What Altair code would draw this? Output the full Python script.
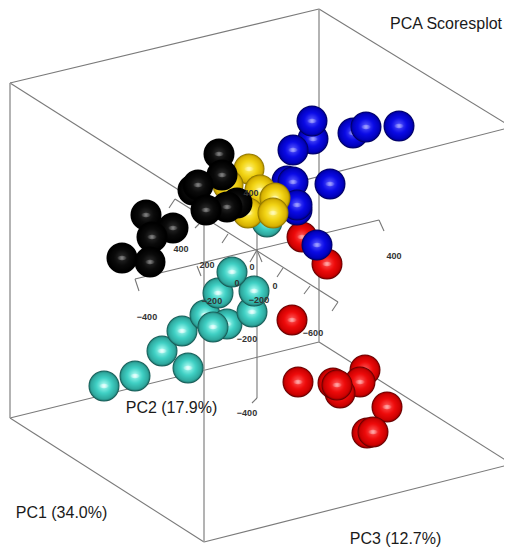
import altair as alt

# Projected positions of the scores, in the picture's plane
red_x = [365, 360, 340, 333, 337, 298, 292, 387, 367, 373, 302, 327]
red_y = [370, 382, 393, 383, 385, 382, 320, 407, 433, 432, 237, 264]
blue_x = [317, 313, 312, 293, 353, 366, 399, 330, 287, 293, 297, 297]
blue_y = [245, 139, 121, 150, 133, 127, 126, 184, 181, 182, 210, 205]
teal_x = [267, 104, 135, 188, 162, 182, 205, 227, 213, 252, 254, 218, 232]
teal_y = [222, 386, 376, 368, 351, 331, 315, 324, 327, 312, 291, 293, 272]
yellow_x = [249, 228, 260, 248, 275, 273]
yellow_y = [169, 185, 190, 213, 198, 213]
black_x = [219, 222, 193, 198, 237, 227, 206, 146, 173, 152, 122, 150]
black_y = [154, 175, 190, 185, 203, 207, 210, 215, 228, 237, 258, 262]

# order of drawing follows this list
groups = ["red", "blue", "teal", "yellow", "black"]
group_x = dict(red=red_x, blue=blue_x, teal=teal_x, yellow=yellow_x, black=black_x)
group_y = dict(red=red_y, blue=blue_y, teal=teal_y, yellow=yellow_y, black=black_y)
stops = dict(
    red=["#ff5a5a", "#ee0a0a", "#c80000", "#4a0000"],
    blue=["#5a5aff", "#0a0ae6", "#0000b8", "#00004a"],
    teal=["#b4fff6", "#3fd0c4", "#2da49a", "#0f4541"],
    yellow=["#fff27a", "#f2d414", "#d4ae00", "#7a6400"],
    black=["#2e2e2e", "#0a0a0a", "#000000", "#000000"],
)
shine = dict(red="#ffb0b0", blue="#a8a8ff", teal="#f0fffe", yellow="#fffbc0", black="#8a8a8a")

# Box edges (x, y, x2, y2)
box_edges = [
    (10, 83, 319, 9), (319, 9, 511.7, 127), (10, 83, 204, 206), (204, 206, 511.7, 127),
    (10, 418, 319, 342), (319, 342, 511.7, 464), (10, 418, 204, 542), (204, 542, 511.7, 464),
]
box_uprights = [(10, 83, 10, 418), (319, 9, 319, 342), (204, 206, 204, 542)]
# Axes through the origin, with their tick arms
axis_lines = [
    (135, 279, 379, 220), (175, 199, 338, 302), (257, 222, 257, 398),
    (379, 220, 384, 231), (135, 279, 139, 291), (197, 266, 201, 276),
    (338, 302, 332, 311), (310, 286, 304, 294), (283, 268, 277, 277),
    (228, 234, 222, 243), (199, 224, 195, 228), (175, 199, 169, 208),
    (257, 250, 250, 262), (257, 250, 262, 262), (257, 398, 252, 403),
]
tick_labels = ["400", "400", "400", "200", "0", "0", "0", "−200", "−200", "−400", "−200", "−400", "−600"]
tick_x = [394, 181, 251, 207, 252, 275, 237, 212, 259, 147, 247, 247, 313]
tick_y = [256, 249, 193, 265, 267, 286, 283, 301, 300, 317, 339, 413, 333]
titles = ["PCA Scoresplot", "PC2 (17.9%)", "PC1 (34.0%)", "PC3 (12.7%)"]
title_x = [446, 171.5, 61.5, 395.5]
title_y = [24, 408, 513, 539]

X = alt.X("x:Q", scale=alt.Scale(domain=[8, 504]), axis=None)
Y = alt.Y("y:Q", scale=alt.Scale(domain=[8, 547], reverse=True), axis=None)


def rules(rows, color, width):
    vals = [dict(x=a, y=b, x2=c, y2=d) for a, b, c, d in rows]
    return alt.Chart(alt.Data(values=vals)).mark_rule(color=color, strokeWidth=width).encode(
        x=X, y=Y, x2="x2:Q", y2="y2:Q"
    )


layers = [
    rules(box_edges, "#7a7a7a", 1.1),
    rules(box_uprights, "#9a9a9a", 1.5),
    rules(axis_lines, "#777777", 1.1),
]

ELLIPSE = "M -0.5 0 A 0.5 0.22 0 1 1 0.5 0 A 0.5 0.22 0 1 1 -0.5 0 Z"

for g in groups:
    s = stops[g]
    grad = alt.RadialGradient(
        gradient="radial", x1=0.5, y1=0.47, x2=0.5, y2=0.5, r1=0, r2=0.5,
        stops=[
            alt.GradientStop(offset=0, color=s[0]),
            alt.GradientStop(offset=0.5, color=s[1]),
            alt.GradientStop(offset=0.88, color=s[2]),
            alt.GradientStop(offset=1, color=s[3]),
        ],
    )
    glow = alt.RadialGradient(
        gradient="radial", x1=0.5, y1=0.5, x2=0.5, y2=0.5, r1=0, r2=0.5,
        stops=[
            alt.GradientStop(offset=0, color=shine[g]),
            alt.GradientStop(offset=1, color=shine[g] + "00"),
        ],
    )
    for px, py in zip(group_x[g], group_y[g]):
        row = alt.Data(values=[dict(x=px, y=py)])
        layers.append(
            alt.Chart(row).mark_point(
                shape="circle", filled=True, fill=grad, opacity=1, size=961, strokeWidth=0
            ).encode(x=X, y=Y)
        )
        layers.append(
            alt.Chart(row).mark_point(
                shape=ELLIPSE, filled=True, fill=glow, opacity=1, size=400, strokeWidth=0
            ).encode(x=X, y=Y)
        )

layers.append(
    alt.Chart(alt.Data(values=[dict(x=a, y=b, t=c) for a, b, c in zip(tick_x, tick_y, tick_labels)]))
    .mark_text(font="Liberation Sans", fontWeight="bold", fontSize=9, color="#333333")
    .encode(x=X, y=Y, text="t:N")
)
layers.append(
    alt.Chart(alt.Data(values=[dict(x=a, y=b, t=c) for a, b, c in zip(title_x, title_y, titles)]))
    .mark_text(font="Liberation Sans", fontSize=16, color="#1a1a1a")
    .encode(x=X, y=Y, text="t:N")
)

chart = (
    alt.layer(*layers)
    .properties(width=496, height=539, padding=0, autosize=alt.AutoSizeParams(type="none"))
    .configure_view(stroke=None)
)
chart.save("out.html", embed_options={"renderer": "svg", "actions": False})
